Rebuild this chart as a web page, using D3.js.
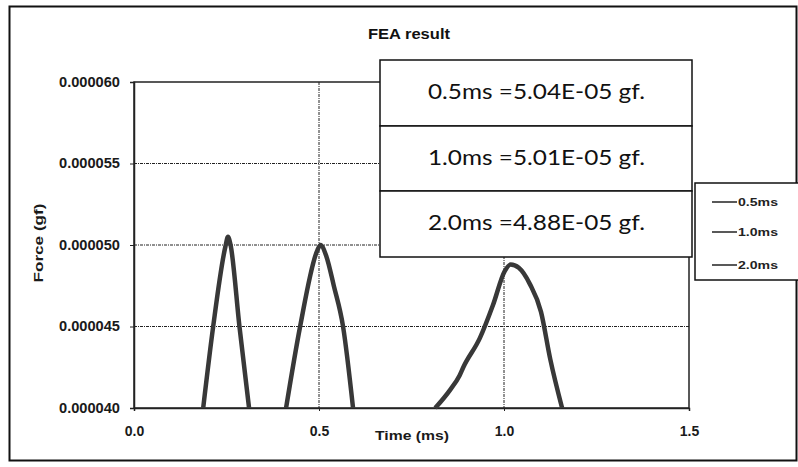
<!DOCTYPE html>
<html><head><meta charset="utf-8">
<script src="https://cdn.jsdelivr.net/npm/d3@7"></script>
<style>body{margin:0;background:#fff;} svg{display:block;}</style>
</head><body>
<script>
const seriesNames = ["0.5ms", "1.0ms", "2.0ms"];
const series05 = [[0.187,40.0],[0.214,45.0],[0.247,49.9],[0.254,50.5],[0.261,50.0],[0.285,45.0],[0.311,40.0]];
const series10 = [[0.411,40.0],[0.449,45.0],[0.496,49.7],[0.504,50.0],[0.520,49.3],[0.540,47.5],[0.565,45.0],[0.592,40.0]];
const series20 = [[0.814,40.0],[0.854,41.1],[0.880,42.0],[0.890,42.5],[0.935,44.3],[0.970,46.3],[1.002,48.4],[1.018,48.8],[1.040,48.6],[1.070,47.6],[1.100,45.9],[1.125,43.0],[1.157,40.0]];
const xTicks = [0.0, 0.5, 1.0, 1.5];
const yTicks = [40, 45, 50, 55, 60];
const boxLines = ["0.5ms =5.04E-05 gf.", "1.0ms =5.01E-05 gf.", "2.0ms =4.88E-05 gf."];

const W = 798, H = 467;
const FONT = "Liberation Sans, Arial, sans-serif";
const svg = d3.select("body").append("svg").attr("width", W).attr("height", H);
const m = {left:134, top:82, right:689, bottom:408};
const x = d3.scaleLinear().domain([0,1.5]).range([m.left, m.right]);
const y = d3.scaleLinear().domain([40,60]).range([m.bottom, m.top]);

// outer frame
svg.append("rect").attr("x",9.5).attr("y",6.5).attr("width",787).attr("height",454)
  .attr("fill","none").attr("stroke","#111").attr("stroke-width",2);

// title
svg.append("text").attr("x",368).attr("y",39)
  .attr("font-family",FONT).attr("font-weight","bold")
  .attr("font-size",15).attr("fill","#111")
  .attr("textLength",82).attr("lengthAdjust","spacingAndGlyphs").text("FEA result");

// gridlines
const grid = svg.append("g");
yTicks.filter(v=>v>40 && v<60).forEach(v=>{
  grid.append("line").attr("x1",m.left).attr("x2",m.right).attr("y1",y(v)).attr("y2",y(v))
    .attr("stroke","#222").attr("stroke-width",1).attr("stroke-dasharray","3,1,1,1");
});
xTicks.filter(v=>v>0 && v<1.5).forEach(v=>{
  grid.append("line").attr("y1",m.top).attr("y2",m.bottom).attr("x1",x(v)).attr("x2",x(v))
    .attr("stroke","#222").attr("stroke-width",1).attr("stroke-dasharray","3,1,1,1");
});
// plot border
svg.append("rect").attr("x",m.left).attr("y",m.top).attr("width",m.right-m.left).attr("height",m.bottom-m.top)
  .attr("fill","none").attr("stroke","#222").attr("stroke-width",1.5);

// axes
const xAxis = svg.append("g").attr("transform",`translate(0,${m.bottom})`)
  .call(d3.axisBottom(x).tickValues(xTicks).tickFormat(d3.format(".1f")).tickSize(3).tickPadding(15));
const yAxis = svg.append("g").attr("transform",`translate(${m.left},0)`)
  .call(d3.axisLeft(y).tickValues(yTicks).tickFormat(d=>(d*1e-6).toFixed(6)).tickSize(4).tickPadding(10));
[xAxis,yAxis].forEach(a=>{
  a.select(".domain").attr("stroke","#222").attr("stroke-width",1.5);
  a.selectAll(".tick line").attr("stroke","#222");
  a.selectAll("text").attr("font-family",FONT).attr("font-size",14)
    .attr("font-weight","bold").attr("fill","#1a1a1a");
});
yAxis.selectAll("text").attr("textLength",61).attr("lengthAdjust","spacingAndGlyphs");

// axis titles
svg.append("text").attr("x",375).attr("y",440)
  .attr("font-family",FONT).attr("font-weight","bold")
  .attr("font-size",13).attr("fill","#1a1a1a")
  .attr("textLength",74).attr("lengthAdjust","spacingAndGlyphs").text("Time (ms)");
svg.append("text").attr("transform","translate(43,243) rotate(-90)").attr("text-anchor","middle")
  .attr("font-family",FONT).attr("font-weight","bold")
  .attr("font-size",13).attr("fill","#1a1a1a")
  .attr("textLength",79).attr("lengthAdjust","spacingAndGlyphs").text("Force (gf)");

// series
const line = d3.line().x(d=>x(d[0])).y(d=>y(d[1])).curve(d3.curveMonotoneX);
svg.append("clipPath").attr("id","clip").append("rect")
  .attr("x",m.left).attr("y",m.top).attr("width",m.right-m.left).attr("height",m.bottom-m.top+2);
const sg = svg.append("g").attr("clip-path","url(#clip)");
[series05, series10, series20].forEach(s=>{
  sg.append("path").datum(s).attr("d",line).attr("fill","none")
    .attr("stroke","#383838").attr("stroke-width",4.5).attr("stroke-linejoin","round").attr("stroke-linecap","butt");
});

// text box
const bx = 380, bw = 312, rowH = [66, 65, 66];
let cy = 60;
boxLines.forEach((t,i)=>{
  svg.append("rect").attr("x",bx).attr("y",cy).attr("width",bw).attr("height",rowH[i])
    .attr("fill","#fff").attr("stroke","#111").attr("stroke-width",1.5);
  svg.append("text").attr("x",428).attr("y",cy+39)
    .attr("font-family","Lato, Open Sans, sans-serif").attr("font-size",22).attr("fill","#111")
    .attr("textLength",217).attr("lengthAdjust","spacingAndGlyphs").text(t);
  cy += rowH[i];
});

// legend
svg.append("rect").attr("x",695).attr("y",183).attr("width",110).attr("height",97)
  .attr("fill","#fff").attr("stroke","#111").attr("stroke-width",1.5);
const legY = [202, 232, 265];
seriesNames.forEach((n,i)=>{
  svg.append("line").attr("x1",712).attr("x2",737).attr("y1",legY[i]).attr("y2",legY[i])
    .attr("stroke","#222").attr("stroke-width",1.5);
  svg.append("text").attr("x",738).attr("y",legY[i]+3.5)
    .attr("font-family",FONT).attr("font-size",10.5).attr("font-weight","bold")
    .attr("fill","#222").attr("textLength",40).attr("lengthAdjust","spacingAndGlyphs").text(n);
});
</script>
</body></html>
